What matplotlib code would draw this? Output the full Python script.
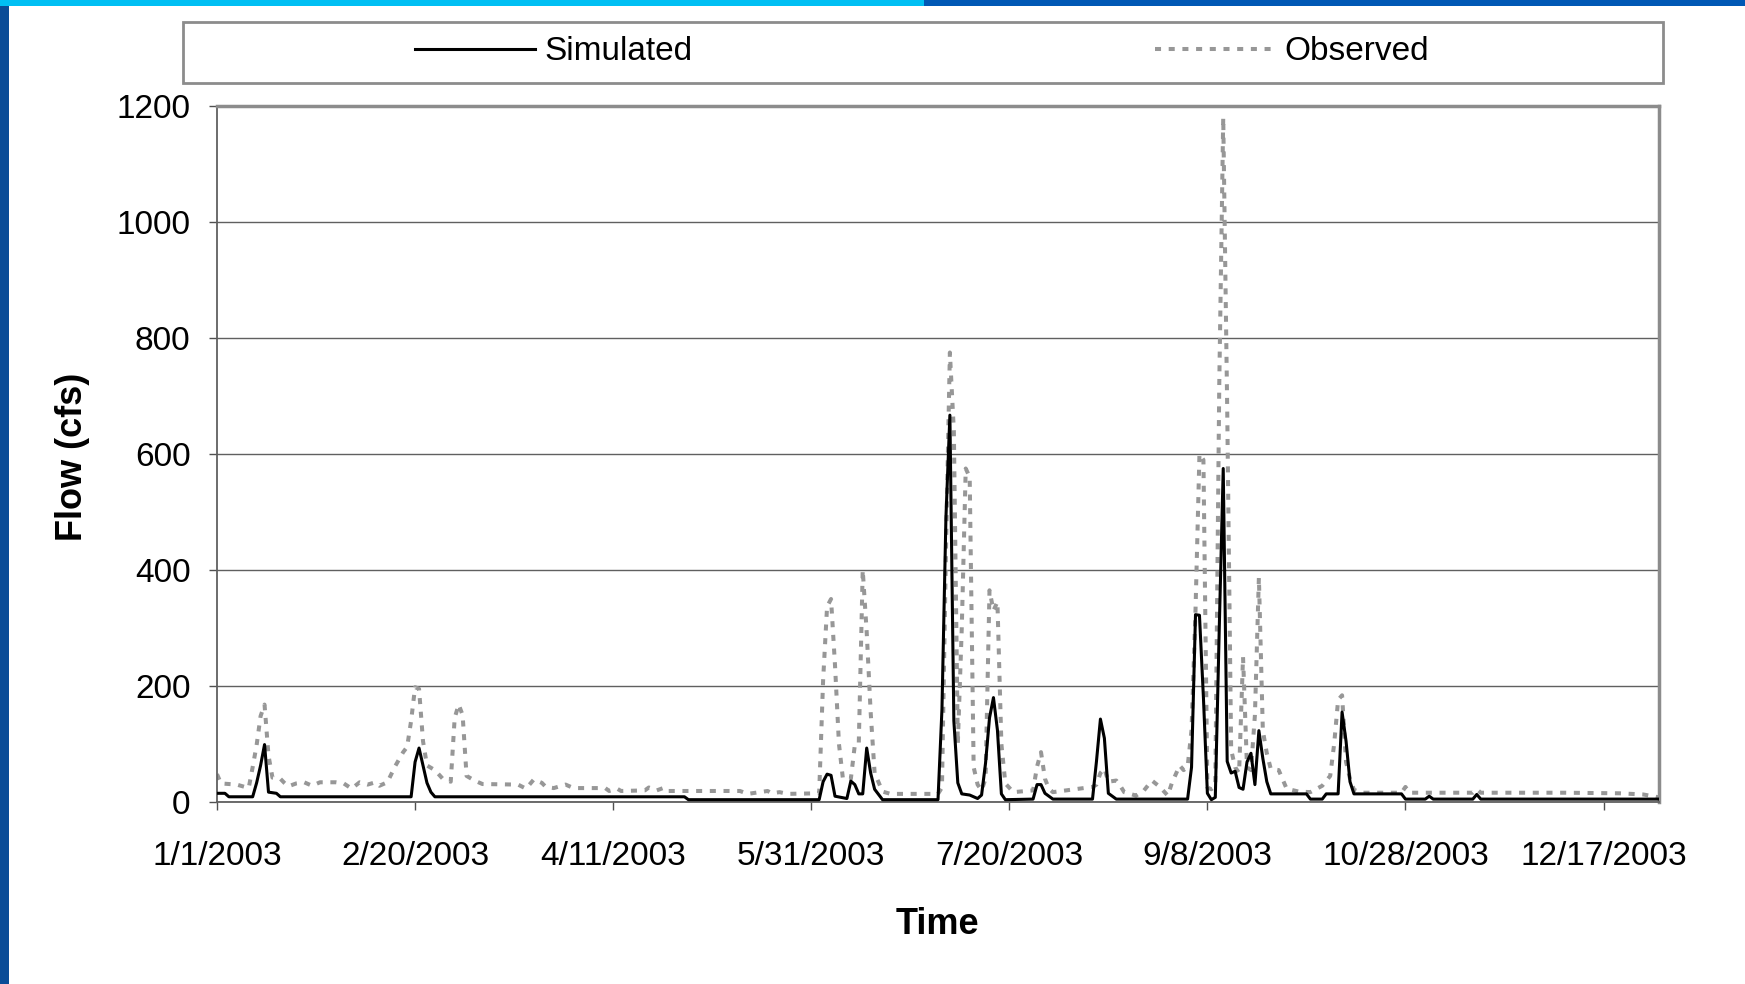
import matplotlib
matplotlib.use("Agg")
import matplotlib.pyplot as plt
from matplotlib.lines import Line2D
from matplotlib.patches import Rectangle

# daily flows (day of year 2003, cfs)
sim_day = [0, 2, 3, 9, 10, 11, 12, 13, 15, 16, 49, 50, 51, 52, 53, 54, 55, 118, 119,
           152, 153, 154, 155, 156, 159, 160, 161, 162, 163, 164, 165, 166, 168,
           182, 183, 184, 185, 186, 187, 188, 190, 192, 193, 194, 195, 196, 197, 198, 199,
           206, 207, 208, 209, 211, 221, 222, 223, 224, 225, 227,
           245, 246, 247, 248, 249, 250, 251, 252, 253, 254, 255, 256, 257, 258, 259,
           260, 261, 262, 263, 264, 265, 266, 275, 276, 279, 280, 283, 284, 285, 286,
           287, 299, 300, 305, 306, 307, 317, 318, 319, 364]
sim_flow = [15, 15, 9, 9, 33, 63, 99, 17, 15, 9, 9, 69, 93, 63, 33, 17, 9, 9, 4,
            4, 35, 48, 46, 10, 6, 36, 30, 14, 14, 93, 50, 22, 4,
            4, 160, 490, 667, 140, 33, 14, 12, 6, 12, 67, 145, 180, 124, 14, 4,
            5, 30, 30, 15, 5, 5, 70, 143, 110, 15, 5,
            5, 60, 323, 322, 180, 15, 4, 8, 300, 575, 70, 50, 53, 25, 22,
            69, 84, 30, 123, 75, 35, 14, 14, 5, 5, 14, 14, 155, 105, 35,
            14, 14, 5, 5, 10, 5, 5, 13, 5, 5]

obs_day = [0, 1, 5, 8, 9, 10, 11, 12, 13, 14, 16, 17, 18, 20, 22, 24, 26, 30, 32, 34,
           36, 38, 40, 41, 43, 45, 47, 48, 49, 50, 51, 52, 53, 55, 57, 59, 60, 61, 62,
           63, 65, 67, 76, 78, 80, 82, 83, 85, 88, 90, 98, 99, 101, 102, 108, 109, 111,
           113, 114, 132, 134, 139, 140, 142, 144, 152, 153, 154, 155, 156, 157, 158,
           160, 161, 162, 163, 164, 165, 166, 168, 170, 182, 183, 184, 185, 186, 187,
           188, 189, 190, 191, 192, 193, 194, 195, 196, 197, 198, 199, 201, 206, 207,
           208, 209, 210, 211, 221, 222, 223, 224, 225, 227, 228, 229, 232, 234, 236,
           238, 240, 241, 243, 244, 245, 246, 247, 248, 249, 250, 251, 252, 253, 254,
           255, 256, 257, 258, 259, 260, 261, 262, 263, 264, 265, 266, 268, 270, 273,
           276, 279, 281, 282, 283, 284, 285, 286, 287, 289, 299, 300, 301, 317, 318,
           319, 340, 354, 360, 364]
obs_flow = [48, 32, 30, 24, 60, 98, 148, 168, 80, 42, 40, 33, 27, 32, 34, 28, 34, 34, 32, 23,
            34, 30, 34, 28, 34, 62, 86, 95, 140, 198, 195, 105, 63, 55, 40, 35, 145, 168, 150,
            45, 37, 31, 30, 23, 39, 33, 26, 24, 30, 24, 24, 19, 23, 19, 20, 25, 20,
            25, 19, 19, 14, 19, 15, 17, 14, 15, 210, 337, 350, 236, 100, 40,
            40, 98, 100, 400, 293, 155, 50, 18, 14, 14, 25, 430, 775, 640, 100,
            300, 575, 560, 60, 30, 20, 40, 365, 330, 345, 100, 32, 17, 20, 61,
            86, 40, 23, 17, 26, 30, 50, 58, 35, 37, 28, 17, 11, 20, 37,
            26, 11, 32, 63, 55, 60, 124, 330, 600, 590, 25, 22, 28, 720, 1180,
            680, 90, 60, 50, 250, 60, 55, 150, 387, 123, 84, 57, 55, 23, 18,
            17, 28, 45, 100, 176, 184, 69, 40, 21, 16, 16, 26, 16, 16, 22,
            16, 16, 15, 13, 8]

tick_days = [0, 50, 100, 150, 200, 250, 300, 350]
tick_labels = ["1/1/2003", "2/20/2003", "4/11/2003", "5/31/2003", "7/20/2003",
               "9/8/2003", "10/28/2003", "12/17/2003"]
y_ticks = [0, 200, 400, 600, 800, 1000, 1200]

plt.rcParams['font.family'] = ['Liberation Sans', 'DejaVu Sans']

W, H = 1745, 984
fig = plt.figure(figsize=(W / 100, H / 100), dpi=100)
ax = fig.add_axes([217 / W, 1 - 802 / H, (1659 - 217) / W, (802 - 106) / H])

obs_style = (0, (1.5, 1.9))
obs_line, = ax.plot(obs_day, obs_flow, color='#979797', lw=2.9,
                    linestyle=obs_style, dash_capstyle='butt', zorder=2)
sim_line, = ax.plot(sim_day, sim_flow, color='black', lw=2.2, zorder=3)

ax.set_xlim(0, 364)
ax.set_ylim(0, 1200)
ax.set_xticks(tick_days)
ax.set_xticklabels(tick_labels)
ax.set_yticks(y_ticks)
ax.yaxis.grid(True, color='#606060', lw=1.0)
ax.set_axisbelow(True)
ax.tick_params(axis='both', direction='out', length=6, width=1.0, color='#505050',
               labelsize=24, labelcolor='black')
ax.tick_params(axis='y', pad=13)
ax.tick_params(axis='x', pad=22)
for side in ['top', 'right']:
    ax.spines[side].set_color('#8c8c8c')
    ax.spines[side].set_linewidth(2.5)
for side in ['left', 'bottom']:
    ax.spines[side].set_color('#606060')
    ax.spines[side].set_linewidth(1.3)

fig.text(72 / W, 1 - 457 / H, "Flow (cfs)", rotation=90, ha='center', va='center',
         fontsize=26, fontweight='bold')
fig.text(937 / W, 1 - 924 / H, "Time", ha='center', va='center',
         fontsize=26, fontweight='bold')

# legend box across the top
fig.add_artist(Rectangle((183 / W, 1 - 83 / H), (1663 - 183) / W, 61 / H,
                         transform=fig.transFigure, facecolor='white',
                         edgecolor='#8c8c8c', lw=2, zorder=-1))
handles = [Line2D([], [], color='black', lw=2.2),
           Line2D([], [], color='#979797', lw=2.9, linestyle=obs_style,
                  dash_capstyle='butt')]
ax.legend(handles, ["Simulated", "Observed"], loc='center left',
          bbox_to_anchor=(415 / W, 1 - 52 / H), bbox_transform=fig.transFigure,
          ncol=2, frameon=False, fontsize=24, handlelength=3.6, handletextpad=0.27,
          columnspacing=13.9, borderpad=0, borderaxespad=0)

# slide frame
fig.add_artist(Rectangle((0, 0), 9 / W, 1, transform=fig.transFigure,
                         facecolor='#0A4C97', edgecolor='none'))
fig.add_artist(Rectangle((0, 1 - 6 / H), 924 / W, 6 / H, transform=fig.transFigure,
                         facecolor='#00BFF3', edgecolor='none'))
fig.add_artist(Rectangle((924 / W, 1 - 6 / H), 1 - 924 / W, 6 / H,
                         transform=fig.transFigure, facecolor='#0058B5', edgecolor='none'))

fig.savefig("out.png", dpi=100)
